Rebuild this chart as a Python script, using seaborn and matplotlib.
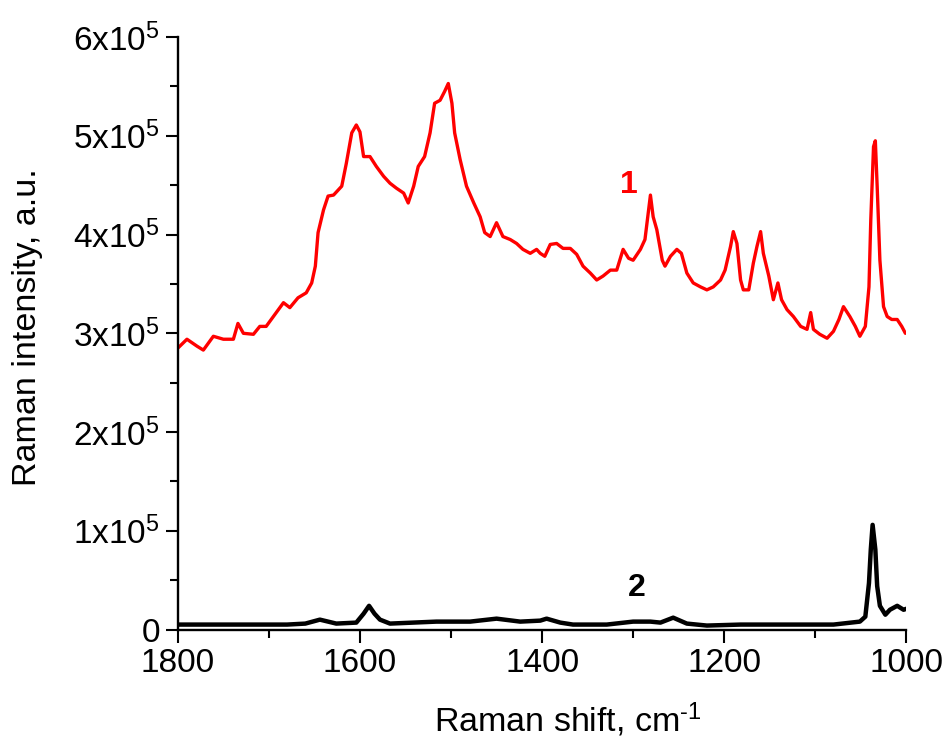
import numpy as np
import pandas as pd
import seaborn as sns
import matplotlib.pyplot as plt
from matplotlib.ticker import MultipleLocator, FixedLocator, FixedFormatter

# spectrum 1 (red)
shift_1 = [1800, 1790, 1779, 1772, 1761, 1750, 1739, 1734, 1728, 1717, 1710, 1703,
           1695, 1684, 1677, 1668, 1659, 1653, 1649, 1646, 1640, 1635, 1629, 1624,
           1620, 1615, 1609, 1604, 1600, 1596, 1589, 1582, 1574, 1567, 1560, 1552,
           1547, 1541, 1536, 1529, 1523, 1518, 1512, 1507, 1503, 1499, 1496, 1490,
           1483, 1475, 1468, 1463, 1457, 1450, 1443, 1435, 1428, 1421, 1413, 1406,
           1402, 1397, 1391, 1384, 1377, 1369, 1362, 1355, 1347, 1340, 1333, 1325,
           1318, 1311, 1305, 1300, 1292, 1287, 1283, 1281, 1278, 1274, 1268, 1265,
           1259, 1252, 1247, 1241, 1234, 1226, 1219, 1212, 1204, 1199, 1193, 1190,
           1186, 1182, 1179, 1173, 1168, 1164, 1160, 1157, 1151, 1146, 1141, 1137,
           1131, 1124, 1116, 1109, 1105, 1102, 1095, 1087, 1080, 1074, 1069, 1062,
           1056, 1051, 1045, 1041, 1039, 1036, 1034, 1032, 1029, 1025, 1021, 1016,
           1010, 1005, 1001]
intensity_1 = [2.85, 2.94, 2.87, 2.83, 2.97, 2.94, 2.94, 3.10, 3.00, 2.99, 3.07, 3.07,
               3.17, 3.31, 3.26, 3.36, 3.41, 3.51, 3.68, 4.02, 4.25, 4.39, 4.40, 4.45,
               4.49, 4.72, 5.03, 5.11, 5.04, 4.79, 4.79, 4.69, 4.59, 4.52, 4.47, 4.42,
               4.32, 4.49, 4.69, 4.79, 5.03, 5.33, 5.36, 5.45, 5.53, 5.33, 5.03, 4.76,
               4.49, 4.32, 4.18, 4.02, 3.98, 4.12, 3.98, 3.95, 3.91, 3.85, 3.81, 3.85,
               3.81, 3.78, 3.90, 3.91, 3.86, 3.86, 3.80, 3.68, 3.61, 3.54, 3.58, 3.64,
               3.64, 3.85, 3.76, 3.74, 3.85, 3.95, 4.25, 4.40, 4.18, 4.05, 3.74, 3.68,
               3.78, 3.85, 3.81, 3.61, 3.51, 3.47, 3.44, 3.47, 3.54, 3.64, 3.88, 4.03,
               3.91, 3.54, 3.44, 3.44, 3.71, 3.88, 4.03, 3.81, 3.58, 3.34, 3.51, 3.34,
               3.24, 3.17, 3.07, 3.04, 3.21, 3.04, 2.99, 2.95, 3.02, 3.14, 3.27, 3.17,
               3.07, 2.97, 3.07, 3.47, 4.15, 4.89, 4.95, 4.49, 3.74, 3.27, 3.17, 3.14,
               3.14, 3.07, 3.00]

# spectrum 2 (black)
shift_2 = [1800, 1760, 1720, 1680, 1660, 1644, 1626, 1604, 1596, 1590, 1584, 1578,
           1567, 1516, 1479, 1450, 1424, 1402, 1395, 1380, 1366, 1329, 1300, 1281,
           1270, 1256, 1241, 1219, 1182, 1146, 1109, 1080, 1051, 1045, 1041, 1039,
           1037, 1034, 1032, 1029, 1023, 1018, 1010, 1003, 1000]
intensity_2 = [0.05, 0.05, 0.05, 0.05, 0.06, 0.10, 0.06, 0.07, 0.16, 0.24, 0.16, 0.10,
               0.06, 0.08, 0.08, 0.11, 0.08, 0.09, 0.11, 0.07, 0.05, 0.05, 0.08, 0.08,
               0.07, 0.12, 0.06, 0.04, 0.05, 0.05, 0.05, 0.05, 0.08, 0.13, 0.47, 0.81,
               1.06, 0.81, 0.44, 0.24, 0.15, 0.20, 0.24, 0.20, 0.21]

y_ticks = [0, 1, 2, 3, 4, 5, 6]
y_tick_labels = ["0"] + [f"{k}x10$^{{5}}$" for k in y_ticks[1:]]

df1 = pd.DataFrame({"shift": shift_1, "intensity": np.array(intensity_1) * 1e5})
df2 = pd.DataFrame({"shift": shift_2, "intensity": np.array(intensity_2) * 1e5})

sns.set_style("ticks", {"axes.edgecolor": "black", "text.color": "black",
                        "axes.labelcolor": "black", "xtick.color": "black",
                        "ytick.color": "black"})
plt.rcParams["font.family"] = ["Liberation Sans", "DejaVu Sans"]
plt.rcParams["mathtext.fontset"] = "custom"
plt.rcParams["mathtext.rm"] = "Liberation Sans"
plt.rcParams["mathtext.it"] = "Liberation Sans:italic"
plt.rcParams["mathtext.bf"] = "Liberation Sans:bold"

fig = plt.figure(figsize=(9.51, 7.42), dpi=100)
ax = fig.add_axes([0.187, 0.1516, 0.766, 0.7984])

sns.lineplot(data=df1, x="shift", y="intensity", color="#ff0000", linewidth=2.4, ax=ax)
sns.lineplot(data=df2, x="shift", y="intensity", color="black", linewidth=3.2, ax=ax)

ax.set_xlim(1800, 1000)
ax.set_ylim(0, 6e5)
ax.set_xticks([1800, 1600, 1400, 1200, 1000])
ax.xaxis.set_minor_locator(MultipleLocator(100))
ax.yaxis.set_major_locator(FixedLocator([v * 1e5 for v in y_ticks]))
ax.yaxis.set_major_formatter(FixedFormatter(y_tick_labels))
ax.yaxis.set_minor_locator(MultipleLocator(0.5e5))

sns.despine(ax=ax)
for side in ["left", "bottom"]:
    ax.spines[side].set_linewidth(1.7)
ax.tick_params(which="major", direction="out", length=9, width=1.5, labelsize=24, pad=4)
ax.tick_params(which="minor", direction="out", length=5.5, width=1.5)

ax.set_xlabel(r"Raman shift, cm$^{\text{-1}}$", fontsize=24.5, labelpad=16)
ax.set_ylabel("Raman intensity, a.u.", fontsize=24.5, labelpad=22)
ax.xaxis.label.set_x(0.536)
ax.yaxis.label.set_y(0.51)

ax.text(1305, 4.5e5, "1", color="#ff0000", fontsize=23, fontweight="bold",
        ha="center", va="center")
ax.text(1296, 0.42e5, "2", color="black", fontsize=23, fontweight="bold",
        ha="center", va="center")

fig.savefig("out.png", dpi=100)
